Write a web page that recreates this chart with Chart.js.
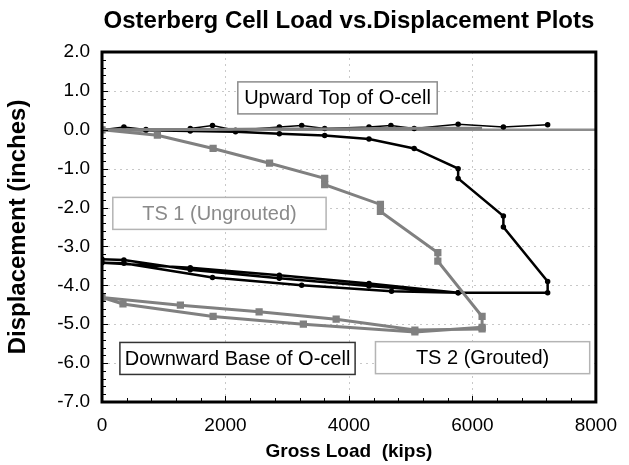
<!DOCTYPE html>
<html>
<head>
<meta charset="utf-8">
<script src="https://cdn.jsdelivr.net/npm/chart.js@4.4.0/dist/chart.umd.min.js"></script>
<style>
  html, body { margin: 0; padding: 0; background: #fff; }
  #chart { display: block; }
</style>
</head>
<body>
<canvas id="chart" width="629" height="465"></canvas>
<script>
// tick labels
const xTicks = [0, 2000, 4000, 6000, 8000];
const yTicks = [2, 1, 0, -1, -2, -3, -4, -5, -6, -7];

// TS 2 (grouted) - upward top of O-cell
const ts2UpLoad = [0, 355, 712, 1430, 1790, 2163, 2873, 3235, 3607, 4325, 4680, 5057, 5769, 6502, 7219];
const ts2UpDisp = [0, 0.07, 0.01, 0.03, 0.11, -0.01, 0.07, 0.11, 0.03, 0.07, 0.11, 0.03, 0.14, 0.07, 0.13];

// TS 2 (grouted) - downward base of O-cell (load, unload, reload, unload)
const ts2DownLoad = [0, 712, 1430, 2163, 2873, 3607, 4325, 5057, 5769, 5769, 6502, 6502, 7219, 7219,
  5769, 4325, 2873, 1430, 0, 355, 1790, 3235, 4690, 5769, 4325, 2873, 1430, 355, 0];
const ts2DownDisp = [0, -0.01, -0.03, -0.05, -0.1, -0.15, -0.24, -0.48, -1.0, -1.25, -2.22, -2.5, -3.9, -4.19,
  -4.19, -3.95, -3.74, -3.55, -3.42, -3.43, -3.8, -4.0, -4.15, -4.19, -4.02, -3.82, -3.6, -3.35, -3.33];

// TS 1 (ungrouted) - downward base of O-cell
const ts1DownLoad = [0, 897, 1800, 2714, 3607, 3607, 4510, 4510, 5440, 5440, 6157, 6157,
  5068, 3262, 1800, 340, 0, 1270, 2545, 3793, 5068, 6157];
const ts1DownDisp = [0, -0.14, -0.48, -0.86, -1.25, -1.41, -1.92, -2.1, -3.16, -3.38, -4.8, -5.08,
  -5.2, -5.0, -4.8, -4.48, -4.31, -4.51, -4.68, -4.87, -5.15, -5.12];

// TS 1 (ungrouted) - upward top of O-cell
const ts1UpLoad = [0, 897, 1800, 2714, 3607, 4510, 5440, 6157];
const ts1UpDisp = [0, 0.01, 0.01, 0.02, 0.02, 0.03, 0.04, 0.04];

// text boxes: [text, left kips, right kips, centre inches, text colour, border colour]
const boxLabels = [
  ["Upward Top of O-cell", 2200, 5430, 0.82, "#000", "#8c8c8c"],
  ["TS 1 (Ungrouted)", 175, 3630, -2.15, "#8a8a8a", "#b4b4b4"],
  ["Downward Base of O-cell", 290, 4100, -5.88, "#000", "#333"],
  ["TS 2 (Grouted)", 4430, 7900, -5.86, "#000", "#b4b4b4"]
];

const chartTitle = "Osterberg Cell Load vs.Displacement Plots";

function pairs(xs, ys) {
  return xs.map((x, i) => ({ x: x, y: ys[i] }));
}

const FONT = '"Liberation Sans", Arial, sans-serif';
Chart.defaults.font.family = FONT;
Chart.defaults.color = "#000";

const framePlugin = {
  id: "frame",
  beforeDatasetsDraw(chart) {
    const ctx = chart.ctx;
    const a = chart.chartArea;
    const xs = chart.scales.x, ys = chart.scales.y;
    ctx.save();
    ctx.strokeStyle = "#c8c8c8";
    ctx.lineWidth = 1;
    ctx.setLineDash([2, 4]);
    xTicks.slice(1, -1).forEach(v => {
      const px = Math.round(xs.getPixelForValue(v)) + 0.5;
      ctx.beginPath(); ctx.moveTo(px, a.top); ctx.lineTo(px, a.bottom); ctx.stroke();
    });
    yTicks.slice(1, -1).forEach(v => {
      if (v === 0) return;
      const py = Math.round(ys.getPixelForValue(v)) + 0.5;
      ctx.beginPath(); ctx.moveTo(a.left, py); ctx.lineTo(a.right, py); ctx.stroke();
    });
    ctx.setLineDash([]);
    ctx.strokeStyle = "#8c8c8c";
    ctx.lineWidth = 2.5;
    const y0 = ys.getPixelForValue(0);
    ctx.beginPath(); ctx.moveTo(a.left, y0); ctx.lineTo(a.right, y0); ctx.stroke();
    ctx.restore();
  },
  afterDatasetsDraw(chart) {
    const ctx = chart.ctx;
    const a = chart.chartArea;
    const xs = chart.scales.x, ys = chart.scales.y;
    ctx.save();
    // minor ticks pointing inwards
    ctx.strokeStyle = "#000";
    ctx.lineWidth = 1;
    for (let i = 0; i <= 45; i++) {
      const py = Math.round(ys.getPixelForValue(-7 + i * 0.2)) + 0.5;
      const len = i % 5 === 0 ? 6 : 4;
      ctx.beginPath(); ctx.moveTo(a.left, py); ctx.lineTo(a.left + len, py); ctx.stroke();
    }
    for (let i = 0; i <= 20; i++) {
      const px = Math.round(xs.getPixelForValue(i * 400)) + 0.5;
      const len = i % 5 === 0 ? 6 : 4;
      ctx.beginPath(); ctx.moveTo(px, a.bottom); ctx.lineTo(px, a.bottom - len); ctx.stroke();
    }
    // frame
    ctx.lineWidth = 3;
    ctx.strokeRect(a.left, a.top, a.right - a.left, a.bottom - a.top);
    // labelled boxes
    ctx.font = "20px " + FONT;
    ctx.textAlign = "center";
    ctx.textBaseline = "middle";
    boxLabels.forEach(b => {
      const l = xs.getPixelForValue(b[1]), r = xs.getPixelForValue(b[2]);
      const cy = ys.getPixelForValue(b[3]);
      ctx.fillStyle = "#fff";
      ctx.fillRect(l, cy - 16, r - l, 32);
      ctx.strokeStyle = b[5];
      ctx.lineWidth = 1.5;
      ctx.strokeRect(l, cy - 16, r - l, 32);
      ctx.fillStyle = b[4];
      ctx.fillText(b[0], (l + r) / 2, cy + 1);
    });
    // title centred over the plot
    ctx.fillStyle = "#000";
    ctx.font = "bold 24px " + FONT;
    ctx.textBaseline = "alphabetic";
    ctx.fillText(chartTitle, (a.left + a.right) / 2, 28);
    ctx.restore();
  }
};

new Chart(document.getElementById("chart"), {
  type: "scatter",
  data: {
    datasets: [
      {
        label: "TS 1 Upward",
        data: pairs(ts1UpLoad, ts1UpDisp),
        showLine: true,
        borderColor: "#808080",
        borderWidth: 3,
        pointRadius: 0
      },
      {
        label: "TS 1 Downward",
        data: pairs(ts1DownLoad, ts1DownDisp),
        showLine: true,
        borderColor: "#808080",
        backgroundColor: "#808080",
        borderWidth: 3,
        pointStyle: "rect",
        pointRadius: 3
      },
      {
        label: "TS 2 Downward",
        data: pairs(ts2DownLoad, ts2DownDisp),
        showLine: true,
        borderColor: "#000",
        backgroundColor: "#000",
        borderWidth: 2.5,
        pointRadius: 1.5
      },
      {
        label: "TS 2 Upward",
        data: pairs(ts2UpLoad, ts2UpDisp),
        showLine: true,
        borderColor: "#000",
        backgroundColor: "#000",
        borderWidth: 1.5,
        pointRadius: 2
      }
    ]
  },
  options: {
    responsive: false,
    animation: false,
    devicePixelRatio: 1,
    layout: { padding: { left: 0, right: 25, top: 52, bottom: 0 } },
    plugins: {
      legend: { display: false },
      tooltip: { enabled: false },
      title: { display: false }
    },
    scales: {
      x: {
        type: "linear",
        min: 0,
        max: 8000,
        afterFit(scale) { scale.height = 63; },
        afterBuildTicks(scale) { scale.ticks = xTicks.map(v => ({ value: v })); },
        ticks: { font: { size: 19 }, padding: 12, maxRotation: 0, callback: v => String(v) },
        grid: { display: false, drawTicks: false },
        border: { display: false },
        title: {
          display: true,
          text: "Gross Load  (kips)",
          font: { size: 19, weight: "bold" },
          padding: { top: 0, bottom: 2 }
        }
      },
      y: {
        type: "linear",
        min: -7,
        max: 2,
        afterFit(scale) { scale.width = 102; },
        afterBuildTicks(scale) { scale.ticks = yTicks.map(v => ({ value: v })); },
        ticks: { font: { size: 19 }, padding: 12, callback: v => v.toFixed(1) },
        grid: { display: false, drawTicks: false },
        border: { display: false },
        title: {
          display: true,
          text: "Displacement (inches)",
          font: { size: 24, weight: "bold" },
          padding: { top: 4, bottom: 0 }
        }
      }
    }
  },
  plugins: [framePlugin]
});
</script>
</body>
</html>
